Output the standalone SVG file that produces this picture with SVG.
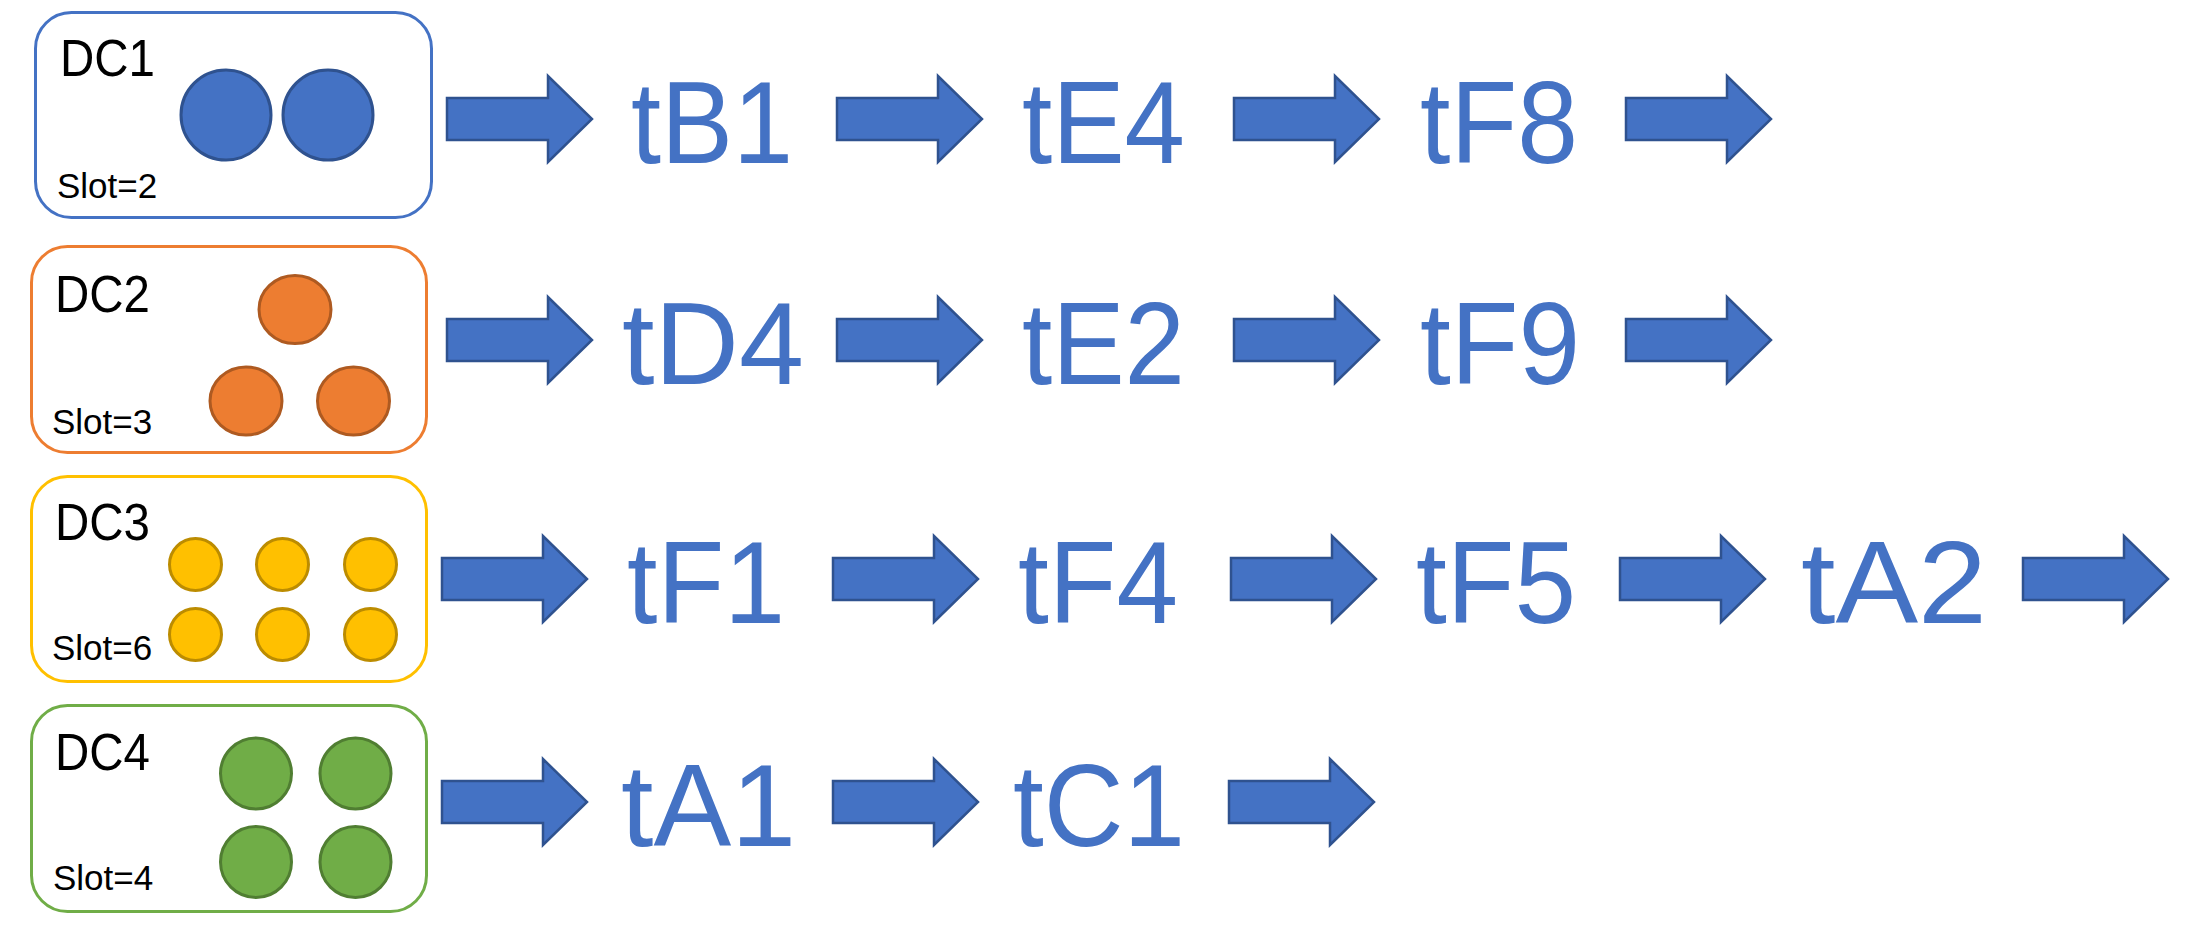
<svg xmlns="http://www.w3.org/2000/svg" xmlns:xlink="http://www.w3.org/1999/xlink" width="2198" height="945" viewBox="0 0 2198 945">
  <style>
    .box { fill: #ffffff; stroke-width: 3; }
    .dc { font-family: "Liberation Sans", Arial, sans-serif; font-size: 51px; fill: #000000; }
    .slot { font-family: "Liberation Sans", Arial, sans-serif; font-size: 35px; fill: #000000; }
    .task { font-family: "Liberation Sans", Arial, sans-serif; font-size: 116px; fill: #4472C4; }
    .arrow { fill: #4472C4; stroke: #2F528F; stroke-width: 2.5; stroke-linejoin: miter; }
    .c1 { fill: #4472C4; stroke: #2F528F; stroke-width: 3; }
    .c2 { fill: #ED7D31; stroke: #AE5A21; stroke-width: 3; }
    .c3 { fill: #FFC000; stroke: #BC8C00; stroke-width: 3; }
    .c4 { fill: #70AD47; stroke: #507E32; stroke-width: 3; }
  </style>
  <defs>
    <path id="arr" class="arrow" d="M0,-21 H101 V-43 L145,0 L101,43 V21 H0 Z"/>
  </defs>
  <rect width="2198" height="945" fill="#ffffff"/>

  <g id="DC1">
    <rect class="box" x="35.5" y="12.5" width="396" height="205" rx="36" ry="36" stroke="#4472C4"/>
    <text class="dc" x="60" y="76" textLength="95" lengthAdjust="spacingAndGlyphs">DC1</text>
    <text class="slot" x="57" y="198">Slot=2</text>
    <circle class="c1" cx="226" cy="115" r="45"/>
    <circle class="c1" cx="328" cy="115" r="45"/>
  </g>

  <g id="DC2">
    <rect class="box" x="31.5" y="246.5" width="395" height="206" rx="36" ry="36" stroke="#ED7D31"/>
    <text class="dc" x="55" y="312" textLength="95" lengthAdjust="spacingAndGlyphs">DC2</text>
    <text class="slot" x="52" y="434">Slot=3</text>
    <ellipse class="c2" cx="295" cy="309.5" rx="36" ry="34"/>
    <ellipse class="c2" cx="246" cy="401" rx="36" ry="34"/>
    <ellipse class="c2" cx="353.5" cy="401" rx="36" ry="34"/>
  </g>

  <g id="DC3">
    <rect class="box" x="31.5" y="476.5" width="395" height="205" rx="36" ry="36" stroke="#FFC000"/>
    <text class="dc" x="55" y="540" textLength="95" lengthAdjust="spacingAndGlyphs">DC3</text>
    <text class="slot" x="52" y="660">Slot=6</text>
    <circle class="c3" cx="195.5" cy="564.5" r="26"/>
    <circle class="c3" cx="282.5" cy="564.5" r="26"/>
    <circle class="c3" cx="370.5" cy="564.5" r="26"/>
    <circle class="c3" cx="195.5" cy="634.5" r="26"/>
    <circle class="c3" cx="282.5" cy="634.5" r="26"/>
    <circle class="c3" cx="370.5" cy="634.5" r="26"/>
  </g>

  <g id="DC4">
    <rect class="box" x="31.5" y="705.5" width="395" height="206" rx="36" ry="36" stroke="#70AD47"/>
    <text class="dc" x="55" y="770" textLength="95" lengthAdjust="spacingAndGlyphs">DC4</text>
    <text class="slot" x="53" y="890">Slot=4</text>
    <circle class="c4" cx="256" cy="773.5" r="35.5"/>
    <circle class="c4" cx="355.5" cy="773.5" r="35.5"/>
    <circle class="c4" cx="256" cy="862" r="35.5"/>
    <circle class="c4" cx="355.5" cy="862" r="35.5"/>
  </g>

  <g id="tB1"><text class="task" x="631" y="163" textLength="162" lengthAdjust="spacingAndGlyphs">tB1</text></g>
  <g id="tE4"><text class="task" x="1022" y="163" textLength="163" lengthAdjust="spacingAndGlyphs">tE4</text></g>
  <g id="tF8"><text class="task" x="1420" y="163" textLength="158" lengthAdjust="spacingAndGlyphs">tF8</text></g>

  <g id="tD4"><text class="task" x="622" y="384" textLength="182" lengthAdjust="spacingAndGlyphs">tD4</text></g>
  <g id="tE2"><text class="task" x="1022" y="384" textLength="163" lengthAdjust="spacingAndGlyphs">tE2</text></g>
  <g id="tF9"><text class="task" x="1420" y="384" textLength="160" lengthAdjust="spacingAndGlyphs">tF9</text></g>

  <g id="tF1"><text class="task" x="627" y="623" textLength="158" lengthAdjust="spacingAndGlyphs">tF1</text></g>
  <g id="tF4"><text class="task" x="1018" y="623" textLength="160" lengthAdjust="spacingAndGlyphs">tF4</text></g>
  <g id="tF5"><text class="task" x="1416" y="623" textLength="160" lengthAdjust="spacingAndGlyphs">tF5</text></g>
  <g id="tA2"><text class="task" x="1801" y="623" textLength="186" lengthAdjust="spacingAndGlyphs">tA2</text></g>

  <g id="tA1"><text class="task" x="621" y="846" textLength="175" lengthAdjust="spacingAndGlyphs">tA1</text></g>
  <g id="tC1"><text class="task" x="1013" y="846" textLength="172" lengthAdjust="spacingAndGlyphs">tC1</text></g>

  <g id="connectors">
    <use xlink:href="#arr" href="#arr" transform="translate(447,119)"/>
    <use xlink:href="#arr" href="#arr" transform="translate(837,119)"/>
    <use xlink:href="#arr" href="#arr" transform="translate(1234,119)"/>
    <use xlink:href="#arr" href="#arr" transform="translate(1626,119)"/>

    <use xlink:href="#arr" href="#arr" transform="translate(447,340)"/>
    <use xlink:href="#arr" href="#arr" transform="translate(837,340)"/>
    <use xlink:href="#arr" href="#arr" transform="translate(1234,340)"/>
    <use xlink:href="#arr" href="#arr" transform="translate(1626,340)"/>

    <use xlink:href="#arr" href="#arr" transform="translate(442,579)"/>
    <use xlink:href="#arr" href="#arr" transform="translate(833,579)"/>
    <use xlink:href="#arr" href="#arr" transform="translate(1231,579)"/>
    <use xlink:href="#arr" href="#arr" transform="translate(1620,579)"/>
    <use xlink:href="#arr" href="#arr" transform="translate(2023,579)"/>

    <use xlink:href="#arr" href="#arr" transform="translate(442,802)"/>
    <use xlink:href="#arr" href="#arr" transform="translate(833,802)"/>
    <use xlink:href="#arr" href="#arr" transform="translate(1229,802)"/>
  </g>
</svg>
